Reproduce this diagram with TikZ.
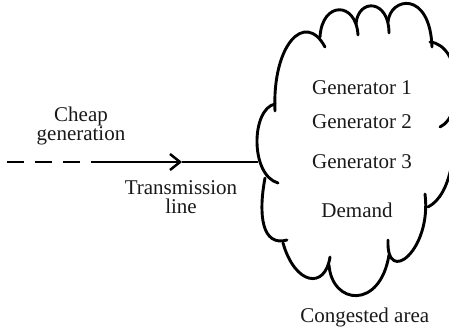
\documentclass[tikz,border=0pt]{standalone}
\usepackage{fontspec}
\setmainfont{Liberation Serif}
\usetikzlibrary{arrows.meta}
\begin{document}
\begin{tikzpicture}[x=1pt,y=1pt,
  lobe/.style={line width=2.9pt, line cap=round},
  wire/.style={line width=2.5pt},
  caption/.style={font=\fontsize{21}{19}\selectfont, inner sep=0pt, align=center, anchor=base, text=black!90}]
\useasboundingbox (0,0) rectangle (449,335);

% the congested area, drawn as a hand-made cloud of separate lobes
\begin{scope}
\clip (0,0) rectangle (449,335);
\draw[lobe] (275,231) .. controls (251,226) and (250,160) .. (278,152); % left middle
\draw[lobe] (275,224) .. controls (272,290) and (305,325) .. (325,288); % upper left
\draw[lobe] (320,298) .. controls (322,334) and (356,334) .. (358,300); % top
\draw[lobe] (356,311) .. controls (358,337) and (389,336) .. (389,302); % top
\draw[lobe] (388,313) .. controls (390,338) and (430,345) .. (432,288); % top right
\draw[lobe] (430,293) .. controls (462,290) and (465,220) .. (440,208); % right upper
\draw[lobe] (452,228) .. controls (458,190) and (452,140) .. (428,128); % right lower
\draw[lobe] (425,141) .. controls (432,85) and (386,48) .. (388,95);   % lower right
\draw[lobe] (329,70) .. controls (332,30) and (380,25) .. (389,80);    % bottom
\draw[lobe] (283,92) .. controls (295,50) and (325,45) .. (330,78);    % lower left
\draw[lobe] (265,157) .. controls (258,120) and (262,88) .. (287,95);  % left lower
\end{scope}

% labels inside and under the cloud
\node[caption] (g1) at (362,240) {Generator 1};
\node[caption] (g2) at (362,206.5) {Generator 2};
\node[caption] (g3) at (362,166.7) {Generator 3};
\node[caption] (dem) at (357,118) {Demand};
\node[caption] (area) at (364.7,12.3) {Congested area};

% the line into the area
\coordinate (src) at (7,173);
\coordinate (dashend) at (105,173);
\coordinate (tip) at (182,173);
\coordinate (entry) at (258,173);
\draw[wire, dash pattern=on 17pt off 11pt] (src) -- (dashend);
\draw[wire, -{Straight Barb[length=10pt,width=16pt]}] (dashend) -- (tip);
\draw[wire] (tip) -- (entry);

% two-line labels: the base anchor sits on the second line
\node[caption] (cheap) at (81,194) {Cheap\\generation};
\node[caption] (tline) at (181,121.7) {Transmission\\line};
\end{tikzpicture}
\end{document}
